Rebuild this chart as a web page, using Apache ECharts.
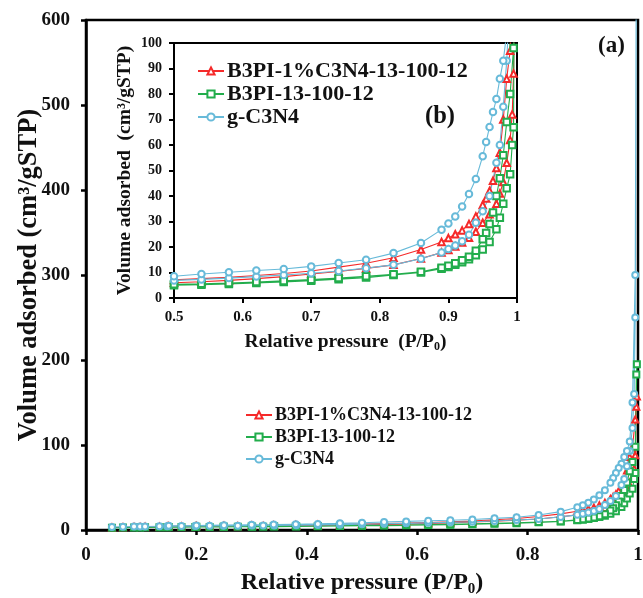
<!DOCTYPE html>
<html>
<head>
<meta charset="utf-8">
<script src="https://cdn.jsdelivr.net/npm/echarts@6/dist/echarts.min.js"></script>
<style>html,body{margin:0;padding:0;background:#fff;}#c{width:643px;height:598px;}</style>
</head>
<body>
<div id="c"></div>
<script>
// ---- data ----
const seriesNames = ['B3PI-1%C3N4-13-100-12', 'B3PI-13-100-12', 'g-C3N4'];
const adsP = [0.047, 0.067, 0.087, 0.098, 0.107, 0.133, 0.147, 0.173, 0.198, 0.224, 0.249, 0.275, 0.301, 0.321, 0.341, 0.381, 0.42, 0.46,
  0.5, 0.54, 0.58, 0.62, 0.66, 0.7, 0.74, 0.78, 0.82, 0.86, 0.89, 0.9, 0.91, 0.92, 0.93, 0.94, 0.95, 0.96, 0.97, 0.975, 0.98, 0.985, 0.99, 0.993, 0.995, 0.997];
const desP = [0.998, 0.995, 0.99, 0.985, 0.98, 0.975, 0.97, 0.965, 0.96, 0.955, 0.95, 0.94, 0.93, 0.92, 0.91, 0.9, 0.89, 0.86, 0.82, 0.78,
  0.74, 0.7, 0.66, 0.62, 0.58, 0.54, 0.5, 0.46, 0.42, 0.38, 0.34, 0.3, 0.25, 0.2, 0.15];

const redAds = [3.0, 3.3, 3.5, 3.6, 3.7, 3.9, 4.0, 4.1, 4.2, 4.3, 4.4, 4.5, 4.6, 4.7, 4.8, 5.0, 5.2, 5.6,
  6.0, 6.4, 6.9, 7.6, 8.4, 9.4, 10.4, 11.6, 13.0, 15.5, 17.8, 18.8, 20.2, 21.8, 23.6, 26.0, 29.5, 32.8, 37.0, 41.0, 45.5, 53.0, 62.0, 72.0, 88.0, 145];
const redDes = [157, 130, 97, 86, 70, 57, 51, 46, 42, 39, 36.5, 32, 29, 26.5, 25, 23.5, 22, 19, 15.8, 13.6,
  12.1, 10.6, 9.6, 8.8, 8.1, 7.6, 7.1, 6.6, 6.1, 5.8, 5.5, 5.2, 4.9, 4.6, 4.3];

const greenAds = [2.6, 2.8, 3.0, 3.0, 3.1, 3.2, 3.3, 3.4, 3.5, 3.6, 3.7, 3.8, 3.9, 3.9, 4.0, 4.2, 4.4, 4.7,
  5.0, 5.2, 5.5, 5.9, 6.3, 6.8, 7.4, 8.0, 9.0, 10.0, 11.5, 12.2, 13.0, 14.0, 15.2, 16.8, 19.0, 22.0, 27.0, 31.5, 37.0, 43.0, 48.5, 60, 67, 183];
const greenDes = [195, 98, 80, 69, 56, 47, 40, 33.5, 29, 25.5, 23, 18.5, 16.2, 14.8, 13.6, 12.6, 11.9, 10.3, 9.3, 8.5,
  7.8, 7.2, 6.7, 6.3, 5.9, 5.6, 5.4, 5.0, 4.7, 4.5, 4.3, 4.1, 3.9, 3.7, 3.5];

const blueAds = [3.5, 3.8, 4.0, 4.1, 4.2, 4.4, 4.5, 4.6, 4.8, 4.9, 5.0, 5.1, 5.2, 5.3, 5.4, 5.6, 5.9, 6.3,
  6.9, 7.3, 7.8, 8.4, 9.0, 9.7, 10.6, 11.7, 13.0, 15.4, 17.8, 19.2, 20.6, 22.3, 24.8, 29.5, 34.0, 40.0, 53.0, 60.0, 75.0, 93.0, 120, 160, 250, 680];
const blueDes = [680, 300, 150, 104, 93, 86, 78, 72.9, 67.1, 61.2, 55.6, 46.7, 40.8, 35.9, 32.0, 29.2, 26.8, 21.6, 17.6, 15.0,
  13.7, 12.4, 11.4, 10.8, 10.1, 9.4, 8.5, 7.8, 7.2, 6.8, 6.4, 6.1, 5.7, 5.3, 4.9];

const mainXTicks = ['0', '0.2', '0.4', '0.6', '0.8', '1'];
const insetXTicks = ['0.5', '0.6', '0.7', '0.8', '0.9', '1'];

// ---- build ----
function loop(ads, des) {
  const out = [];
  adsP.forEach((p, i) => out.push([p, ads[i]]));
  desP.forEach((p, i) => out.push([p, des[i]]));
  return out;
}
const colors = ['#f52a2a', '#22ad4c', '#67bad9'];
const symbols = ['emptyTriangle', 'emptyRect', 'emptyCircle'];
const loops = [loop(redAds, redDes), loop(greenAds, greenDes), loop(blueAds, blueDes)];
const FONT = '"Liberation Serif", "Times New Roman", serif';

const series = [];
[0, 1].forEach(g => {
  [0, 1, 2].forEach(k => {
    series.push({
      type: 'line', name: seriesNames[k], xAxisIndex: g, yAxisIndex: g,
      data: loops[k], symbol: symbols[k], symbolSize: g === 0 ? 6 : 6.5,
      color: colors[k], lineStyle: { width: 1.1, color: colors[k] },
      itemStyle: { color: colors[k], borderWidth: 1 },
      clip: true, animation: false, z: 2
    });
  });
});

function axisCommon(width) {
  return {
    nameMoveOverlap: false,
    axisLine: { show: true, onZero: false, lineStyle: { color: '#000', width: width } },
    axisTick: { show: true, inside: false, length: 5, lineStyle: { color: '#000', width: width } },
    splitLine: { show: false }
  };
}

const option = {
  backgroundColor: '#fff',
  animation: false,
  grid: [
    { left: 86, right: 5, top: 20, bottom: 68, show: true, borderColor: '#000', borderWidth: 2.5,
      containLabel: false, outerBoundsMode: 'none' },
    { left: 174, right: 126, top: 43, bottom: 300, show: true, borderColor: '#000', borderWidth: 2, backgroundColor: '#fff',
      containLabel: false, outerBoundsMode: 'none' }
  ],
  xAxis: [
    Object.assign({
      type: 'value', gridIndex: 0, min: 0, max: 1, interval: 0.2,
      axisLabel: { margin: 16, color: '#111', fontFamily: FONT, fontWeight: 'bold', fontSize: 19,
        formatter: v => mainXTicks[Math.round(v / 0.2)] },
      name: '{a|Relative pressure (P/P}{b|0}{a|)}', nameLocation: 'middle', nameGap: 38,
      nameTextStyle: { rich: {
        a: { fontFamily: FONT, fontWeight: 'bold', fontSize: 24, lineHeight: 30, color: '#111' },
        b: { fontFamily: FONT, fontWeight: 'bold', fontSize: 15, lineHeight: 15, padding: [13, 0, 0, 0], color: '#111' } } }
    }, axisCommon(2.5)),
    Object.assign({
      type: 'value', gridIndex: 1, min: 0.5, max: 1, interval: 0.1,
      axisLabel: { margin: 12, color: '#111', fontFamily: FONT, fontWeight: 'bold', fontSize: 15,
        formatter: v => insetXTicks[Math.round((v - 0.5) / 0.1)] },
      name: '{a|Relative pressure  (P/P}{b|0}{a|)}', nameLocation: 'middle', nameGap: 32,
      nameTextStyle: { rich: {
        a: { fontFamily: FONT, fontWeight: 'bold', fontSize: 19.5, lineHeight: 24, color: '#111' },
        b: { fontFamily: FONT, fontWeight: 'bold', fontSize: 12, lineHeight: 12, padding: [10, 0, 0, 0], color: '#111' } } }
    }, axisCommon(2))
  ],
  yAxis: [
    Object.assign({
      type: 'value', gridIndex: 0, min: 0, max: 600, interval: 100,
      axisLabel: { margin: 16, color: '#111', fontFamily: FONT, fontWeight: 'bold', fontSize: 19 },
      name: 'Volume adsorbed (cm³/gSTP)', nameLocation: 'middle', nameGap: 43, nameRotate: 90,
      nameTextStyle: { fontFamily: FONT, fontWeight: 'bold', fontSize: 26.5, color: '#111' }
    }, axisCommon(2.5)),
    Object.assign({
      type: 'value', gridIndex: 1, min: 0, max: 100, interval: 10,
      axisLabel: { margin: 12, color: '#111', fontFamily: FONT, fontWeight: 'bold', fontSize: 14 },
      name: 'Volume adsorbed  (cm³/gSTP)', nameLocation: 'middle', nameGap: 39, nameRotate: 90,
      nameTextStyle: { fontFamily: FONT, fontWeight: 'bold', fontSize: 19.5, color: '#111' }
    }, axisCommon(2))
  ],
  legend: [
    { orient: 'vertical', left: 240, top: 401, itemGap: 4, itemWidth: 26, itemHeight: 9,
      data: seriesNames, selectedMode: false,
      textStyle: { fontFamily: FONT, fontWeight: 'bold', fontSize: 18, color: '#111', padding: [0, 0, 0, -2] } },
    { orient: 'vertical', left: 192, top: 55, itemGap: 1, itemWidth: 26, itemHeight: 9,
      data: seriesNames, selectedMode: false,
      textStyle: { fontFamily: FONT, fontWeight: 'bold', fontSize: 22, color: '#111', padding: [0, 0, 0, -2] } }
  ],
  graphic: [
    { type: 'text', left: 598, top: 35, style: { text: '(a)', font: 'bold 23px ' + FONT, fill: '#111' } },
    { type: 'text', left: 425, top: 104, style: { text: '(b)', font: 'bold 24.5px ' + FONT, fill: '#111' } }
  ],
  series: series
};

const chart = echarts.init(document.getElementById('c'), null, { renderer: 'canvas' });
chart.setOption(option);
</script>
</body>
</html>
